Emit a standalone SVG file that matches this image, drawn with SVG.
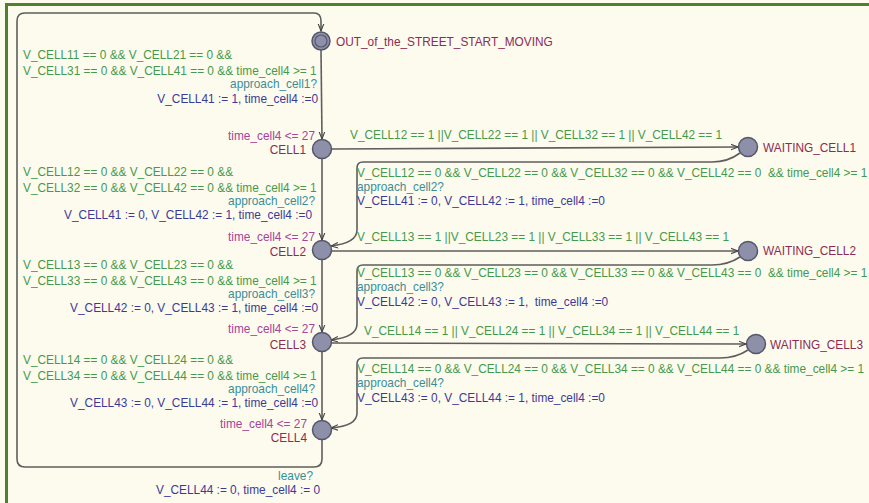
<svg xmlns="http://www.w3.org/2000/svg" width="869" height="503" viewBox="0 0 869 503">
<defs>
<style>
text{font-family:"Liberation Sans",Arial,sans-serif;font-size:11.85px}
.g{fill:#449a4c}
.s{fill:#3a8e98}
.u{fill:#3c3a98}
.n{fill:#8a2c55}
.i{fill:#a4449a}
.e{text-anchor:end}
.loc{fill:#8e90aa;stroke:#55586a;stroke-width:1.5}
.ed{fill:none;stroke:#5e5e5e;stroke-width:1.6;marker-end:url(#ah)}
</style>
<marker id="ah" viewBox="0 0 10 10" refX="9" refY="5" markerWidth="8" markerHeight="8" markerUnits="userSpaceOnUse" orient="auto">
<path d="M0,1.5 L9,5 L0,8.5" fill="none" stroke="#444" stroke-width="1.4"/>
</marker>
</defs>
<rect x="0" y="0" width="869" height="503" fill="#fdfbee"/>
<rect x="5" y="3" width="864" height="3" fill="#4f7f2f"/>
<rect x="5" y="3" width="3" height="500" fill="#4f7f2f"/>

<g id="connectors">
<path class="ed" d="M322,440 L322,459 Q322,467 314,467 L25,467 Q17,467 17,459 L17,21 Q17,13 25,13 L314,13 Q321,13 321,21 L321,31"/>
<path class="ed" d="M321,50 L322,139"/>
<path class="ed" d="M322,159 L322,240"/>
<path class="ed" d="M322,260 L322,332"/>
<path class="ed" d="M322,352 L322,420"/>
<path class="ed" d="M332,149 L738,147"/>
<path class="ed" d="M740,153 Q728,162 712,162 L363,162 Q357,162 357,168 L357,230 Q357,243 331,246"/>
<path class="ed" d="M332,251 L738,251"/>
<path class="ed" d="M740,257 Q728,265 712,265 L363,265 Q357,265 357,271 L357,324 Q357,337 331,340"/>
<path class="ed" d="M332,343 L746,344"/>
<path class="ed" d="M748,350 Q736,358 720,358 L363,358 Q357,358 357,364 L357,413 Q357,426 331,428"/>
</g>

<g id="n_init">
<circle cx="321" cy="41" r="9" fill="#8e90aa" stroke="#55586a" stroke-width="1.5"/>
<circle cx="321" cy="41" r="6" fill="#8e90aa" stroke="#55586a" stroke-width="1.2"/>
<text class="n" x="336" y="46">OUT_of_the_STREET_START_MOVING</text>
</g>
<g id="n_cell1">
<circle class="loc" cx="322" cy="149" r="9.5"/>
<text class="i e" x="315" y="140">time_cell4 &lt;= 27</text>
<text class="n e" x="306" y="154">CELL1</text>
</g>
<g id="n_cell2">
<circle class="loc" cx="322" cy="250" r="9.5"/>
<text class="i e" x="315" y="241">time_cell4 &lt;= 27</text>
<text class="n e" x="306" y="256">CELL2</text>
</g>
<g id="n_cell3">
<circle class="loc" cx="322" cy="342" r="9.5"/>
<text class="i e" x="315" y="333">time_cell4 &lt;= 27</text>
<text class="n e" x="306" y="349">CELL3</text>
</g>
<g id="n_cell4">
<circle class="loc" cx="322" cy="430" r="9.5"/>
<text class="i e" x="307" y="428">time_cell4 &lt;= 27</text>
<text class="n e" x="307" y="442">CELL4</text>
</g>
<g id="n_wait1">
<circle class="loc" cx="748" cy="147" r="9.5"/>
<text class="n" x="763" y="152">WAITING_CELL1</text>
</g>
<g id="n_wait2">
<circle class="loc" cx="748" cy="251" r="9.5"/>
<text class="n" x="763" y="255">WAITING_CELL2</text>
</g>
<g id="n_wait3">
<circle class="loc" cx="756" cy="344" r="9.5"/>
<text class="n" x="770" y="349">WAITING_CELL3</text>
</g>

<g id="labels">
<text class="g" x="23" y="59">V_CELL11 == 0 &amp;&amp; V_CELL21 == 0 &amp;&amp;</text>
<text class="g" x="23" y="75">V_CELL31 == 0 &amp;&amp; V_CELL41 == 0 &amp;&amp; time_cell4 &gt;= 1</text>
<text class="s e" x="317" y="88">approach_cell1?</text>
<text class="u e" x="318" y="103">V_CELL41 := 1, time_cell4 :=0</text>

<text class="g" x="23" y="176">V_CELL12 == 0 &amp;&amp; V_CELL22 == 0 &amp;&amp;</text>
<text class="g" x="23" y="192">V_CELL32 == 0 &amp;&amp; V_CELL42 == 0 &amp;&amp; time_cell4 &gt;= 1</text>
<text class="s e" x="315" y="205">approach_cell2?</text>
<text class="u e" x="312" y="219">V_CELL41 := 0, V_CELL42 := 1, time_cell4 :=0</text>

<text class="g" x="23" y="269">V_CELL13 == 0 &amp;&amp; V_CELL23 == 0 &amp;&amp;</text>
<text class="g" x="23" y="285">V_CELL33 == 0 &amp;&amp; V_CELL43 == 0 &amp;&amp; time_cell4 &gt;= 1</text>
<text class="s e" x="315" y="298">approach_cell3?</text>
<text class="u e" x="318" y="312">V_CELL42 := 0, V_CELL43 := 1, time_cell4 :=0</text>

<text class="g" x="23" y="364">V_CELL14 == 0 &amp;&amp; V_CELL24 == 0 &amp;&amp;</text>
<text class="g" x="23" y="380">V_CELL34 == 0 &amp;&amp; V_CELL44 == 0 &amp;&amp; time_cell4 &gt;= 1</text>
<text class="s e" x="315" y="393">approach_cell4?</text>
<text class="u e" x="318" y="407">V_CELL43 := 0, V_CELL44 := 1, time_cell4 :=0</text>

<text class="s e" x="313" y="480">leave?</text>
<text class="u e" x="320" y="494">V_CELL44 := 0, time_cell4 := 0</text>

<text class="g" x="350" y="139">V_CELL12 == 1 ||V_CELL22 == 1 || V_CELL32 == 1 || V_CELL42 == 1</text>
<text class="g" x="357" y="177" xml:space="preserve">V_CELL12 == 0 &amp;&amp; V_CELL22 == 0 &amp;&amp; V_CELL32 == 0 &amp;&amp; V_CELL42 == 0  &amp;&amp; time_cell4 &gt;= 1</text>
<text class="s" x="357" y="191">approach_cell2?</text>
<text class="u" x="357" y="205">V_CELL41 := 0, V_CELL42 := 1, time_cell4 :=0</text>

<text class="g" x="357" y="241">V_CELL13 == 1 ||V_CELL23 == 1 || V_CELL33 == 1 || V_CELL43 == 1</text>
<text class="g" x="357" y="277" xml:space="preserve">V_CELL13 == 0 &amp;&amp; V_CELL23 == 0 &amp;&amp; V_CELL33 == 0 &amp;&amp; V_CELL43 == 0  &amp;&amp; time_cell4 &gt;= 1</text>
<text class="s" x="357" y="291">approach_cell3?</text>
<text class="u" x="357" y="306" xml:space="preserve">V_CELL42 := 0, V_CELL43 := 1,  time_cell4 :=0</text>

<text class="g" x="364" y="335">V_CELL14 == 1 || V_CELL24 == 1 || V_CELL34 == 1 || V_CELL44 == 1</text>
<text class="g" x="357" y="373">V_CELL14 == 0 &amp;&amp; V_CELL24 == 0 &amp;&amp; V_CELL34 == 0 &amp;&amp; V_CELL44 == 0 &amp;&amp; time_cell4 &gt;= 1</text>
<text class="s" x="357" y="387">approach_cell4?</text>
<text class="u" x="357" y="402">V_CELL43 := 0, V_CELL44 := 1, time_cell4 :=0</text>
</g>
</svg>
